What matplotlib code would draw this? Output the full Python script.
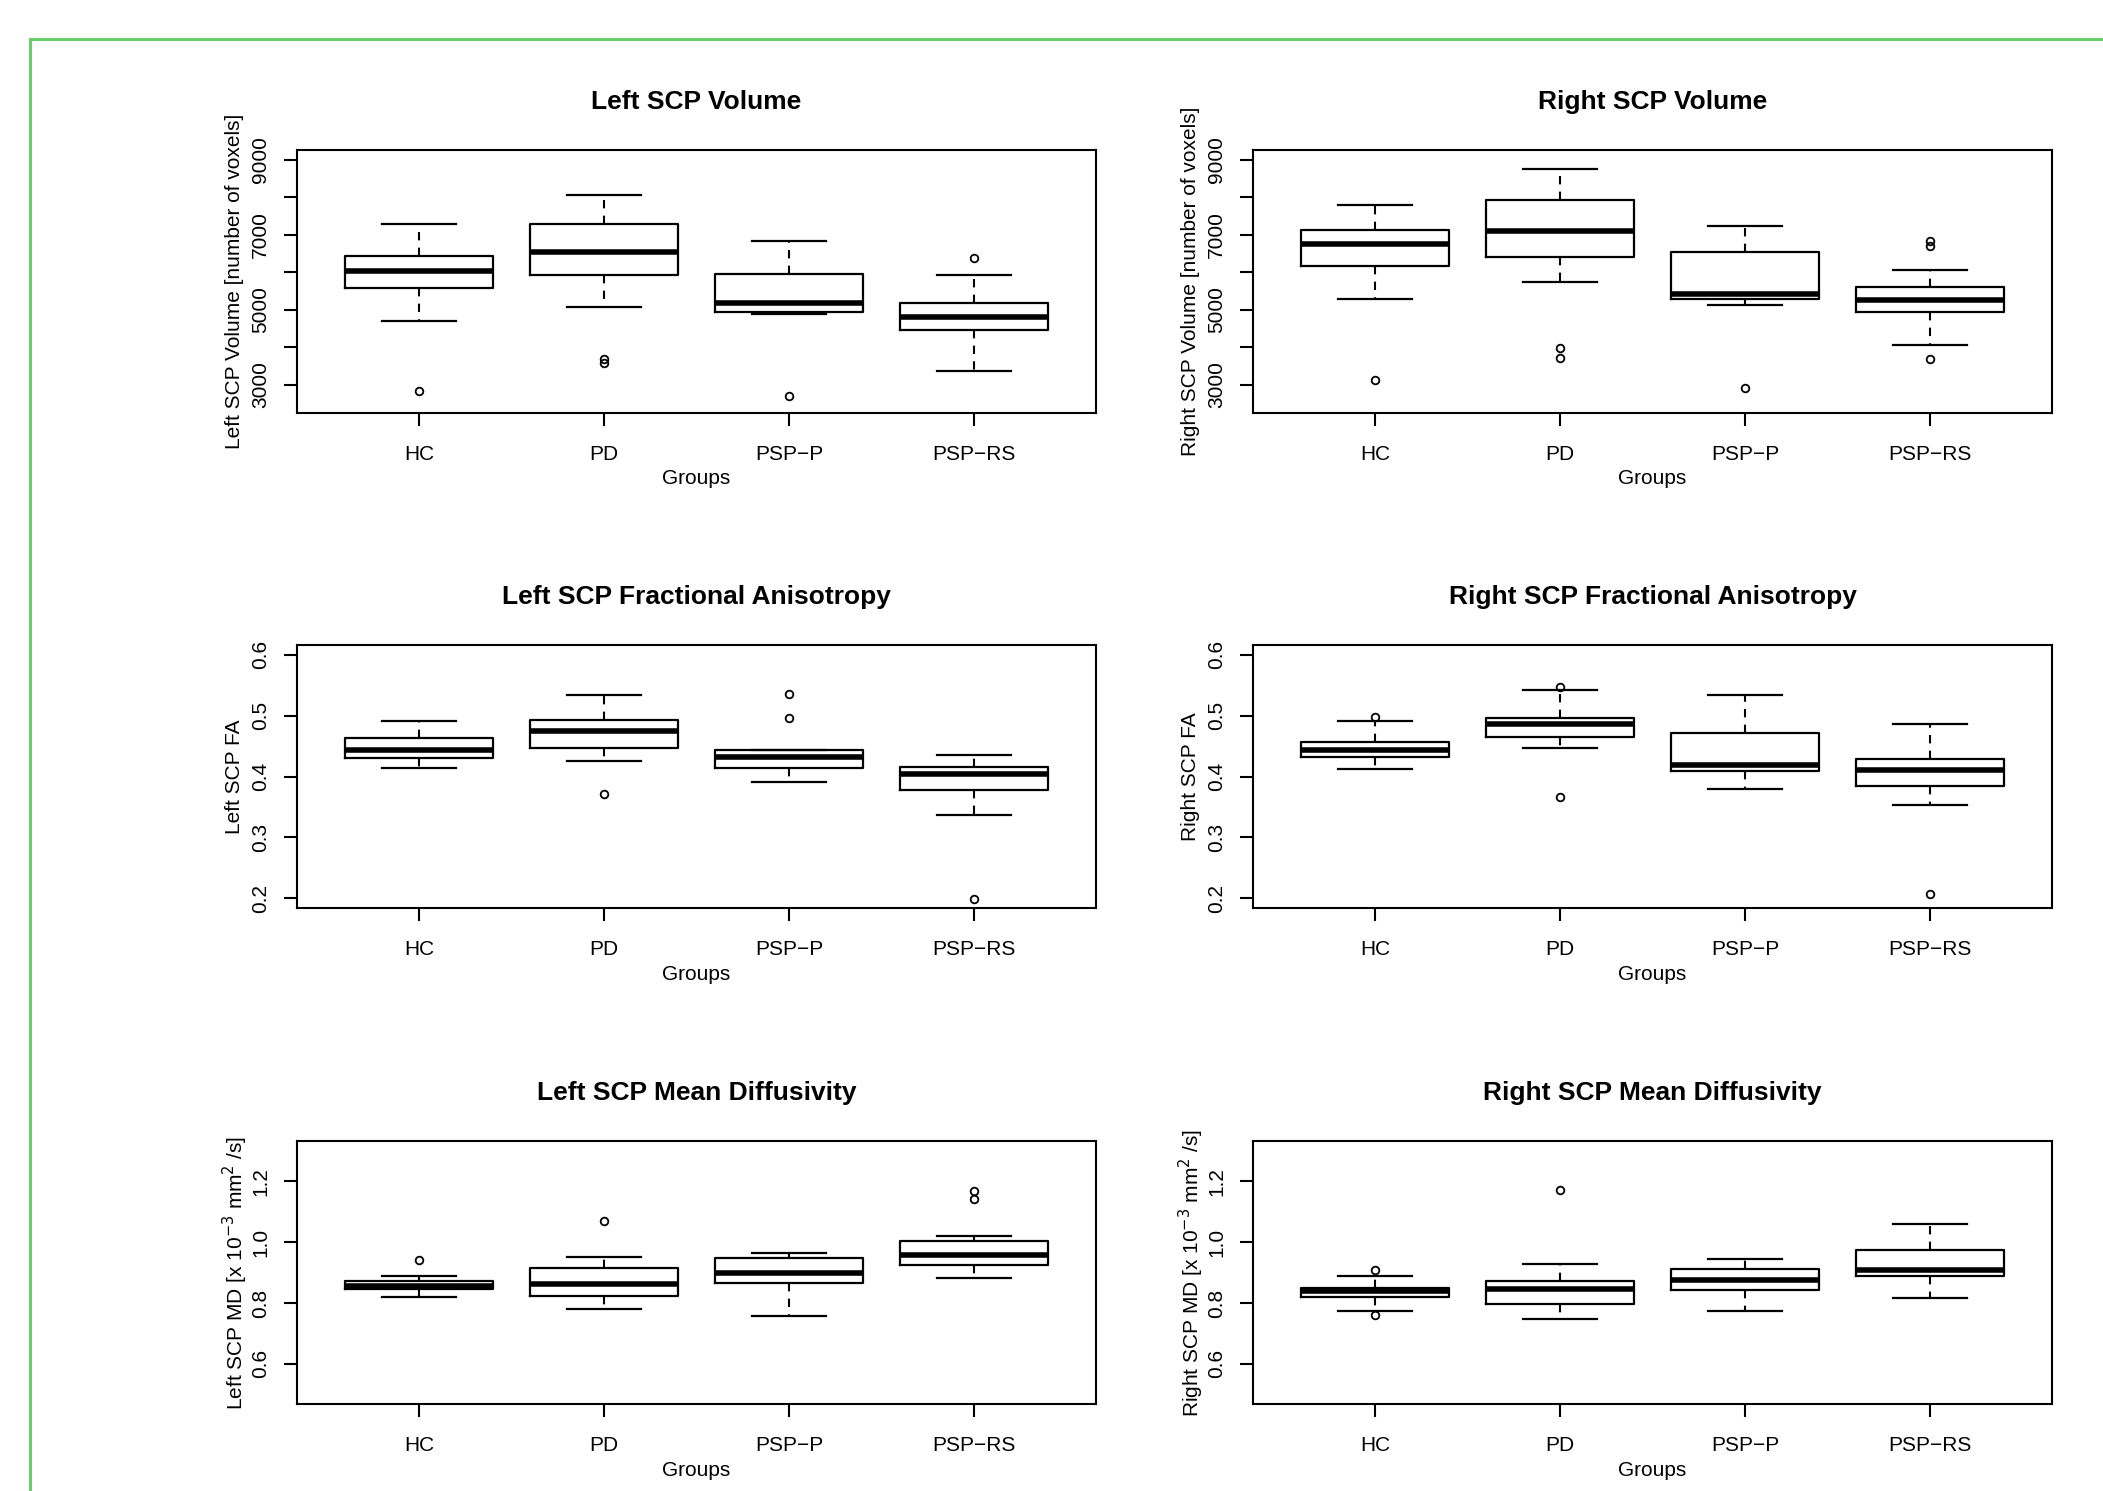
import matplotlib
matplotlib.use("Agg")
import matplotlib.pyplot as plt
from matplotlib.lines import Line2D

plt.rcParams['font.family'] = ['Liberation Sans', 'DejaVu Sans']

# ---------------- data ----------------
groups = ["HC", "PD", "PSP\u2212P", "PSP\u2212RS"]

# Left SCP Volume
lvol_whislo = [4707, 5062, 4893, 3373]
lvol_q1 = [5578, 5916, 4938, 4449]
lvol_med = [6022, 6529, 5169, 4804]
lvol_q3 = [6440, 7284, 5951, 5178]
lvol_whishi = [7293, 8067, 6822, 5933]
lvol_fliers = [[2822], [3693, 3578], [2689], [6387]]

# Right SCP Volume
rvol_whislo = [5293, 5738, 5124, 4067]
rvol_q1 = [6173, 6396, 5293, 4929]
rvol_med = [6751, 7098, 5418, 5267]
rvol_q3 = [7116, 7916, 6529, 5596]
rvol_whishi = [7800, 8751, 7240, 6049]
rvol_fliers = [[3116], [3969, 3711], [2911], [6822, 6707, 3693]]

# Left SCP FA
lfa_whislo = [0.4143, 0.4253, 0.3912, 0.3368]
lfa_q1 = [0.4297, 0.4472, 0.4132, 0.3775]
lfa_med = [0.4434, 0.4742, 0.4319, 0.4033]
lfa_q3 = [0.4637, 0.4934, 0.4434, 0.4154]
lfa_whishi = [0.4912, 0.5335, 0.4434, 0.4352]
lfa_fliers = [[], [0.3714], [0.5352, 0.4961], [0.1989]]

# Right SCP FA
rfa_whislo = [0.4126, 0.4472, 0.3802, 0.3538]
rfa_q1 = [0.4319, 0.4648, 0.4093, 0.3846]
rfa_med = [0.4434, 0.4857, 0.4187, 0.4099]
rfa_q3 = [0.4566, 0.4956, 0.4720, 0.4280]
rfa_whishi = [0.4912, 0.5418, 0.5335, 0.4863]
rfa_fliers = [[0.4978], [0.5472, 0.3665], [], [0.2071]]

# Left SCP MD
lmd_whislo = [0.819, 0.7817, 0.7577, 0.8825]
lmd_q1 = [0.8453, 0.8223, 0.865, 0.9252]
lmd_med = [0.8562, 0.8617, 0.900, 0.957]
lmd_q3 = [0.8715, 0.9142, 0.9482, 1.004]
lmd_whishi = [0.888, 0.9504, 0.9635, 1.0215]
lmd_fliers = [[0.9416], [1.0686], [], [1.1672, 1.142]]

# Right SCP MD
rmd_whislo = [0.7741, 0.7478, 0.7719, 0.8157]
rmd_q1 = [0.8179, 0.7971, 0.8409, 0.8869]
rmd_med = [0.8387, 0.8442, 0.8748, 0.9077]
rmd_q3 = [0.8507, 0.8715, 0.9099, 0.9755]
rmd_whishi = [0.888, 0.9263, 0.9438, 1.0577]
rmd_fliers = [[0.9088, 0.7598], [1.1715], [], []]

vol_ticks = [3000, 4000, 5000, 6000, 7000, 8000, 9000]
vol_labels = ["3000", "", "5000", "", "7000", "", "9000"]
fa_ticks = [0.2, 0.3, 0.4, 0.5, 0.6]
fa_labels = ["0.2", "0.3", "0.4", "0.5", "0.6"]
md_ticks = [0.6, 0.8, 1.0, 1.2]
md_labels = ["0.6", "0.8", "1.0", "1.2"]

panels = [
    ("Left SCP Volume", "Left SCP Volume [number of voxels]",
     (lvol_whislo, lvol_q1, lvol_med, lvol_q3, lvol_whishi, lvol_fliers),
     (2500, 9000), vol_ticks, vol_labels),
    ("Right SCP Volume", "Right SCP Volume [number of voxels]",
     (rvol_whislo, rvol_q1, rvol_med, rvol_q3, rvol_whishi, rvol_fliers),
     (2500, 9000), vol_ticks, vol_labels),
    ("Left SCP Fractional Anisotropy", "Left SCP FA",
     (lfa_whislo, lfa_q1, lfa_med, lfa_q3, lfa_whishi, lfa_fliers),
     (0.2, 0.6), fa_ticks, fa_labels),
    ("Right SCP Fractional Anisotropy", "Right SCP FA",
     (rfa_whislo, rfa_q1, rfa_med, rfa_q3, rfa_whishi, rfa_fliers),
     (0.2, 0.6), fa_ticks, fa_labels),
    ("Left SCP Mean Diffusivity", r"Left SCP MD [x 10$^{-3}$ mm$^{2}$ /s]",
     (lmd_whislo, lmd_q1, lmd_med, lmd_q3, lmd_whishi, lmd_fliers),
     (0.5, 1.3), md_ticks, md_labels),
    ("Right SCP Mean Diffusivity", r"Right SCP MD [x 10$^{-3}$ mm$^{2}$ /s]",
     (rmd_whislo, rmd_q1, rmd_med, rmd_q3, rmd_whishi, rmd_fliers),
     (0.5, 1.3), md_ticks, md_labels),
]

# ---------------- layout ----------------
W, H = 2103, 1491
fig = plt.figure(figsize=(W / 100, H / 100), dpi=100)
fig.patch.set_facecolor("white")

ax_w_px, ax_h_px = 799, 263
lefts_px = [297, 1253]
tops_px = [150, 645, 1141]

for i, (title, ylabel, stats, ylim, yt, ytl) in enumerate(panels):
    r, c = divmod(i, 2)
    left = lefts_px[c] / W
    bottom = (H - tops_px[r] - ax_h_px) / H
    ax = fig.add_axes([left, bottom, ax_w_px / W, ax_h_px / H])

    wl, q1, md, q3, wh, fl = stats
    bstats = []
    for k in range(len(groups)):
        bstats.append(dict(whislo=wl[k], q1=q1[k], med=md[k], q3=q3[k],
                           whishi=wh[k], fliers=fl[k], label=groups[k]))
    ax.bxp(bstats, positions=[1, 2, 3, 4], widths=0.8, capwidths=0.4,
           showfliers=True,
           boxprops=dict(color="black", linewidth=1.6),
           medianprops=dict(color="black", linewidth=4.0, solid_capstyle="butt"),
           whiskerprops=dict(color="black", linewidth=1.5, linestyle=(0, (4, 3.5))),
           capprops=dict(color="black", linewidth=1.6),
           flierprops=dict(marker="o", markersize=5.5, markerfacecolor="none",
                           markeredgecolor="black", markeredgewidth=1.3,
                           linestyle="none"))

    pad = 0.04 * (ylim[1] - ylim[0])
    ax.set_ylim(ylim[0] - pad, ylim[1] + pad)
    ax.set_xlim(0.34, 4.66)
    ax.set_xticks([1, 2, 3, 4])
    ax.set_xticklabels(groups, fontsize=15)
    ax.set_yticks(yt)
    ax.set_yticklabels(ytl, fontsize=15, rotation=90, va="center")

    for s in ax.spines.values():
        s.set_linewidth(1.5)
        s.set_color("black")
    ax.tick_params(axis="both", direction="out", length=9.5, width=1.5, color="black")
    ax.tick_params(axis="x", pad=13.5)
    ax.tick_params(axis="y", pad=10)

    ax.set_title(title, fontsize=19, fontweight="bold", y=1 + 40 / ax_h_px, va="center")
    ax.set_xlabel("Groups", fontsize=15, va="center")
    ax.xaxis.set_label_coords(0.5, -66 / ax_h_px)
    ax.set_ylabel(ylabel, fontsize=15, va="center")
    ax.yaxis.set_label_coords(-62 / ax_w_px, 0.5)

# green frame (top and left edges visible)
green = "#6acd6a"
fig.add_artist(Line2D([30 / W, 1.01], [1 - 39 / H, 1 - 39 / H], transform=fig.transFigure,
                      color=green, linewidth=2.2))
fig.add_artist(Line2D([30 / W, 30 / W], [1 - 39 / H, -0.01], transform=fig.transFigure,
                      color=green, linewidth=2.2))

fig.savefig("out.png", dpi=100, facecolor="white")
